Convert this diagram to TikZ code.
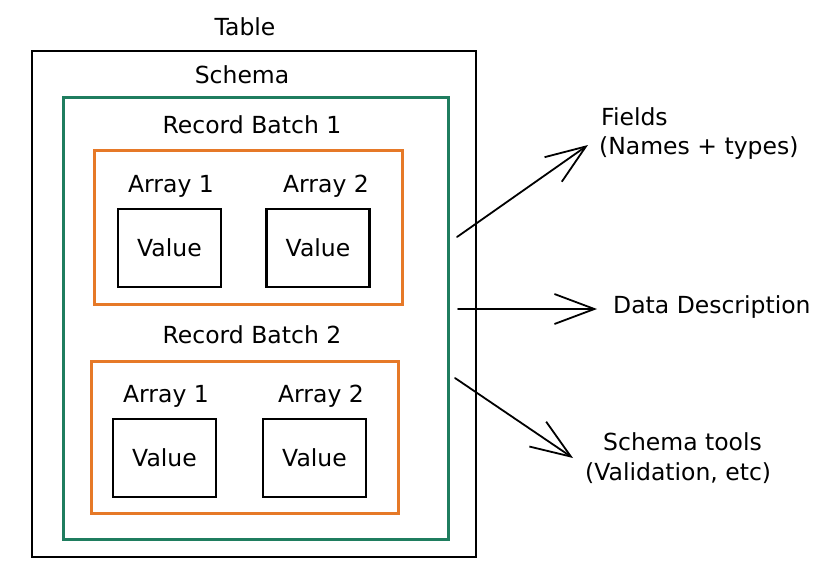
\documentclass[tikz,border=0pt]{standalone}
\usepackage{fontspec}
\setmainfont{DejaVu Sans}
\usetikzlibrary{arrows.meta}
\definecolor{schemagreen}{RGB}{31,125,95}
\definecolor{batchorange}{RGB}{230,121,40}
\tikzset{
  frame/.style={draw=black, line width=1.8pt, rectangle, inner sep=0pt},
  schemabox/.style={draw=schemagreen, line width=3pt, rectangle, inner sep=0pt},
  batchbox/.style={draw=batchorange, line width=3pt, rectangle, inner sep=0pt},
  valuebox/.style={draw=black, line width=2.2pt, rectangle, inner sep=0pt,
    minimum width=103pt, minimum height=78pt, font=\fontsize{23.5}{28}\selectfont},
  lbl/.style={inner sep=0pt, font=\fontsize{23.5}{28}\selectfont},
  sketcharrow/.style={line width=1.8pt, line cap=round,
    -{Straight Barb[length=40pt, width=30pt, line width=1.8pt]}}
}
\begin{document}
\begin{tikzpicture}[x=1pt, y=-1pt]
  \useasboundingbox (0,0) rectangle (837,581);

  % outer table and schema frame
  \node[frame, minimum width=444pt, minimum height=506pt] (table) at (254,304) {};
  \node[lbl] (tablelbl) at (245,27) {Table};
  \node[lbl] (schemalbl) at (242,75) {Schema};
  \node[schemabox, minimum width=385pt, minimum height=442pt] (schema) at (255.5,318) {};

  % record batch 1
  \node[lbl] (rb1lbl) at (252,125) {Record Batch 1};
  \node[batchbox, minimum width=308pt, minimum height=154pt] (rb1) at (248,227) {};
  \node[lbl] (a11lbl) at (171,186) {Array 1};
  \node[lbl] (a12lbl) at (326,186) {Array 2};
  \node[valuebox] (v11) at (169.5,248) {Value};
  \node[valuebox] (v12) at (318,248) {Value};

  % record batch 2
  \node[lbl] (rb2lbl) at (252,335) {Record Batch 2};
  \node[batchbox, minimum width=307pt, minimum height=152pt] (rb2) at (244.5,437) {};
  \node[lbl] (a21lbl) at (166,396) {Array 1};
  \node[lbl] (a22lbl) at (321,396) {Array 2};
  \node[valuebox] (v21) at (164.5,458) {Value};
  \node[valuebox] (v22) at (314.5,458) {Value};

  % descriptions on the right, placed by their baselines
  \node[lbl, anchor=base west] (fields) at (601,125) {Fields};
  \node[lbl, anchor=base west] (names) at (599,154) {(Names + types)};
  \node[lbl, anchor=base west] (datadesc) at (613,313) {Data Description};
  \node[lbl, anchor=base west] (tools) at (603,450) {Schema tools};
  \node[lbl, anchor=base west] (valid) at (585,480) {(Validation, etc)};

  % arrow ends
  \coordinate (s1) at (457,237);
  \coordinate (e1) at (588,145);
  \coordinate (s2) at (458,309);
  \coordinate (e2) at (597,309);
  \coordinate (s3) at (455,378);
  \coordinate (e3) at (573,458);

  \draw[sketcharrow] (s1) -- (e1);
  \draw[sketcharrow] (s2) -- (e2);
  \draw[sketcharrow] (s3) -- (e3);
\end{tikzpicture}
\end{document}
